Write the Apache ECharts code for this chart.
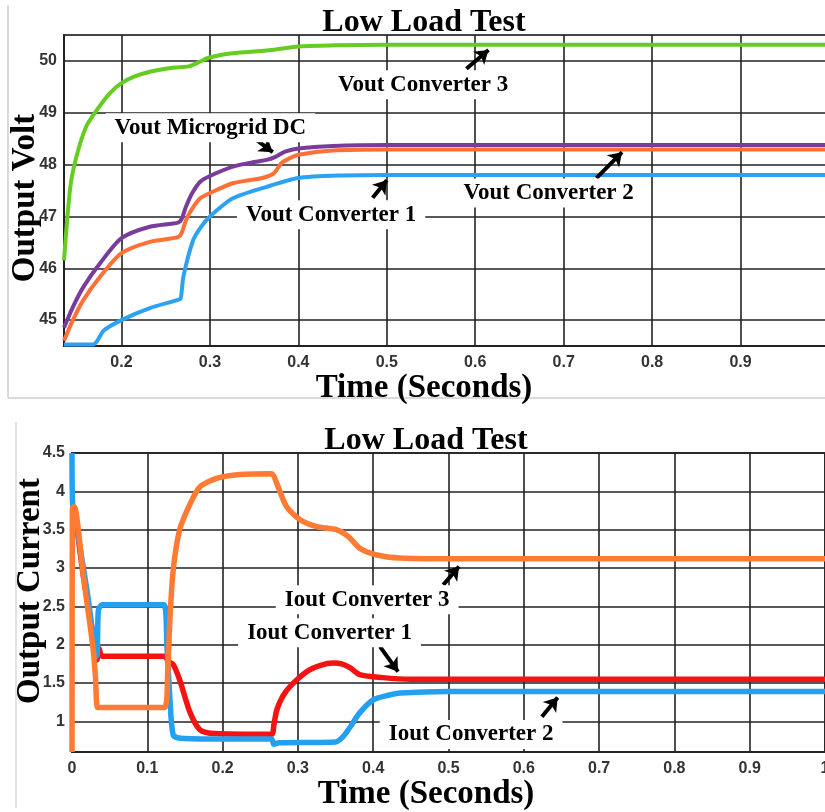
<!DOCTYPE html>
<html>
<head>
<meta charset="utf-8">
<script src="https://cdn.jsdelivr.net/npm/echarts@6/dist/echarts.min.js"></script>
<style>
    html, body { margin: 0; padding: 0; background: #fff; }
    #chart { width: 825px; height: 812px; }
</style>
</head>
<body>
<div id="chart"></div>
<script>
    // top panel: output voltage
    const voltTicksX = [0.2, 0.3, 0.4, 0.5, 0.6, 0.7, 0.8, 0.9];
    const voltTicksY = [45, 46, 47, 48, 49, 50];

    const v3Time = [0.135, 0.142, 0.149, 0.16, 0.172, 0.187, 0.2, 0.215, 0.232, 0.25, 0.266, 0.277, 0.288, 0.3, 0.326, 0.364, 0.4, 0.44, 0.5, 1.0];
    const v3Vals = [46.15, 47.55, 48.15, 48.73, 49.05, 49.38, 49.57, 49.7, 49.79, 49.85, 49.88, 49.9, 49.98, 50.07, 50.15, 50.2, 50.28, 50.3, 50.31, 50.31];

    const vmTime = [0.135, 0.145, 0.157, 0.176, 0.2, 0.232, 0.264, 0.268, 0.273, 0.28, 0.289, 0.3, 0.326, 0.35, 0.364, 0.374, 0.385, 0.4, 0.439, 0.5, 1.0];
    const vmVals = [44.85, 45.25, 45.64, 46.1, 46.58, 46.8, 46.88, 46.95, 47.19, 47.45, 47.67, 47.78, 47.96, 48.05, 48.09, 48.15, 48.25, 48.31, 48.36, 48.38, 48.38];

    const v2Time = [0.135, 0.145, 0.157, 0.176, 0.2, 0.232, 0.264, 0.268, 0.273, 0.28, 0.289, 0.3, 0.326, 0.359, 0.372, 0.381, 0.39, 0.4, 0.439, 0.5, 1.0];
    const v2Vals = [44.6, 45.0, 45.39, 45.84, 46.29, 46.51, 46.6, 46.68, 46.93, 47.15, 47.35, 47.45, 47.64, 47.74, 47.83, 48.03, 48.12, 48.19, 48.27, 48.29, 48.29];

    const v1Time = [0.135, 0.168, 0.18, 0.2, 0.232, 0.264, 0.267, 0.27, 0.281, 0.29, 0.3, 0.326, 0.364, 0.4, 0.45, 0.5, 1.0];
    const v1Vals = [44.53, 44.53, 44.8, 45.0, 45.23, 45.39, 45.42, 45.84, 46.54, 46.8, 47.0, 47.35, 47.57, 47.74, 47.79, 47.8, 47.8];

    // bottom panel: output current
    const currTicksY = [1, 1.5, 2, 2.5, 3, 3.5, 4, 4.5];

    const i1Time = [0.003, 0.015, 0.03, 0.033, 0.036, 0.04, 0.123, 0.128, 0.1345, 0.143, 0.157, 0.17, 0.19, 0.265, 0.268, 0.272, 0.28, 0.29, 0.312, 0.33, 0.347, 0.358, 0.369, 0.382, 0.413, 0.45, 0.5, 1.0];
    const i1Vals = [3.8, 2.9, 2.0, 1.8, 1.95, 1.85, 1.85, 1.78, 1.74, 1.54, 1.11, 0.89, 0.84, 0.83, 0.95, 1.15, 1.33, 1.46, 1.65, 1.73, 1.76, 1.75, 1.7, 1.61, 1.57, 1.55, 1.55, 1.55];

    const i2Time = [0, 0.001, 0.006, 0.02, 0.033, 0.035, 0.04, 0.122, 0.126, 0.13, 0.1345, 0.145, 0.2, 0.265, 0.268, 0.275, 0.35, 0.36, 0.369, 0.382, 0.4, 0.42, 0.436, 0.5, 1.0];
    const i2Vals = [4.5, 3.8, 3.55, 2.7, 1.85, 2.45, 2.52, 2.52, 2.0, 1.3, 0.82, 0.78, 0.77, 0.77, 0.7, 0.72, 0.73, 0.8, 0.92, 1.11, 1.28, 1.34, 1.37, 1.39, 1.39];

    const i3Time = [0, 0.0005, 0.003, 0.015, 0.028, 0.031, 0.034, 0.04, 0.123, 0.127, 0.13, 0.1345, 0.143, 0.157, 0.17, 0.192, 0.223, 0.265, 0.272, 0.285, 0.303, 0.325, 0.351, 0.367, 0.382, 0.405, 0.436, 0.5, 1.0];
    const i3Vals = [0.6, 3.78, 3.8, 2.9, 1.95, 1.6, 1.18, 1.18, 1.18, 1.6, 2.33, 2.98, 3.5, 3.84, 4.06, 4.17, 4.22, 4.23, 4.1, 3.8, 3.63, 3.54, 3.5, 3.41, 3.26, 3.17, 3.13, 3.12, 3.12];

    // annotations: [text, t, value] and arrows [t1, v1, t2, v2]
    const voltLabels = [
        ['Vout Converter 3', 0.541, 49.54],
        ['Vout Microgrid DC', 0.3005, 48.71],
        ['Vout Converter 1', 0.437, 47.03],
        ['Vout Converter 2', 0.683, 47.45]
    ];
    const voltArrows = [
        [0.590, 49.85, 0.615, 50.21],
        [0.353, 48.47, 0.371, 48.24],
        [0.484, 47.36, 0.500, 47.70],
        [0.737, 47.74, 0.766, 48.24]
    ];
    const currLabels = [
        ['Iout Converter 3', 0.392, 2.586],
        ['Iout Converter 1', 0.342, 2.156],
        ['Iout Converter 2', 0.530, 0.828]
    ];
    const currArrows = [
        [0.493, 2.78, 0.514, 3.02],
        [0.409, 1.974, 0.433, 1.648],
        [0.624, 1.06, 0.645, 1.31]
    ];

    const serif = 'Liberation Serif';
    const sans = 'Liberation Sans';

    function pairs(ts, vs) {
        return ts.map((t, i) => [t, vs[i]]);
    }

    function marks(labels, arrows) {
        return {
            markPoint: {
                symbol: 'rect',
                symbolSize: 1,
                silent: true,
                itemStyle: {color: 'rgba(0,0,0,0)'},
                label: {
                    show: true,
                    position: 'inside',
                    formatter: '{b}',
                    color: '#000',
                    fontFamily: serif,
                    fontWeight: 'bold',
                    fontSize: 23,
                    backgroundColor: '#fff',
                    padding: [3, 9]
                },
                data: labels.map(l => ({name: l[0], coord: [l[1], l[2]]}))
            },
            markLine: {
                silent: true,
                symbol: ['none', 'arrow'],
                symbolSize: 13,
                label: {show: false},
                lineStyle: {color: '#000', width: 4, type: 'solid'},
                data: arrows.map(a => [{coord: [a[0], a[1]]}, {coord: [a[2], a[3]]}])
            }
        };
    }

    function line(name, xi, data, color, width, extra) {
        return Object.assign({
            name: name,
            type: 'line',
            xAxisIndex: xi,
            yAxisIndex: xi,
            data: data,
            showSymbol: false,
            smooth: 0.25,
            color: color,
            lineStyle: {width: width, color: color},
            clip: true,
            z: 3
        }, extra || {});
    }

    const labelStyle = {color: '#333', fontFamily: sans, fontWeight: 'bold', fontSize: 16};
    const gridLine = {show: true, lineStyle: {color: '#222', width: 1.6}};
    const nameFont = 'bold 33px "Liberation Serif"';

    let chart = echarts.init(document.getElementById('chart'));
    chart.setOption({
        animation: false,
        backgroundColor: '#fff',
        title: [
            {text: 'Low Load Test', left: 424, top: 7, textAlign: 'center', padding: 0,
                textStyle: {fontFamily: serif, fontWeight: 'bold', fontSize: 32, color: '#000'}},
            {text: 'Low Load Test', left: 426, top: 425, textAlign: 'center', padding: 0,
                textStyle: {fontFamily: serif, fontWeight: 'bold', fontSize: 32, color: '#000'}}
        ],
        grid: [
            {left: 64, top: 35, width: 765, height: 311, show: true, borderColor: '#444', borderWidth: 2,
                outerBoundsMode: 'none'},
            {left: 72, top: 453, width: 753, height: 299, show: true, borderColor: '#444', borderWidth: 2,
                outerBoundsMode: 'none'}
        ],
        xAxis: [
            {
                type: 'value', gridIndex: 0, min: 0.135, max: 1,
                axisLine: {show: true, lineStyle: {color: '#222', width: 2}},
                axisTick: {show: false, customValues: voltTicksX},
                axisLabel: Object.assign({customValues: voltTicksX, margin: 9}, labelStyle),
                splitLine: gridLine
            },
            {
                type: 'value', gridIndex: 1, min: 0, max: 1, interval: 0.1,
                axisLine: {show: true, lineStyle: {color: '#222', width: 2}},
                axisTick: {show: false},
                axisLabel: Object.assign({margin: 9}, labelStyle),
                splitLine: gridLine
            }
        ],
        yAxis: [
            {
                type: 'value', gridIndex: 0, min: 44.5, max: 50.5,
                axisLine: {show: true, lineStyle: {color: '#222', width: 2}},
                axisTick: {show: false, customValues: voltTicksY},
                axisLabel: Object.assign({customValues: voltTicksY, margin: 7}, labelStyle),
                splitLine: gridLine
            },
            {
                type: 'value', gridIndex: 1, min: 0.6, max: 4.5,
                axisLine: {show: true, lineStyle: {color: '#222', width: 2}},
                axisTick: {show: false, customValues: currTicksY},
                axisLabel: Object.assign({customValues: currTicksY, margin: 7}, labelStyle),
                splitLine: gridLine
            }
        ],
        graphic: [
            {type: 'line', shape: {x1: 8, y1: 5, x2: 8, y2: 398}, style: {stroke: '#cfcfcf', lineWidth: 1.5}},
            {type: 'line', shape: {x1: 8, y1: 398, x2: 825, y2: 398}, style: {stroke: '#cfcfcf', lineWidth: 1.5}},
            {type: 'line', shape: {x1: 16, y1: 422, x2: 16, y2: 808}, style: {stroke: '#d8d8d8', lineWidth: 1.5}},
            {type: 'text', x: 25, y: 198, rotation: Math.PI / 2,
                style: {text: 'Output Volt', font: nameFont, fill: '#000', align: 'center', verticalAlign: 'middle'}},
            {type: 'text', x: 424, y: 388,
                style: {text: 'Time (Seconds)', font: nameFont, fill: '#000', align: 'center', verticalAlign: 'middle'}},
            {type: 'text', x: 30, y: 591, rotation: Math.PI / 2,
                style: {text: 'Output Current', font: nameFont, fill: '#000', align: 'center', verticalAlign: 'middle'}},
            {type: 'text', x: 426, y: 794,
                style: {text: 'Time (Seconds)', font: nameFont, fill: '#000', align: 'center', verticalAlign: 'middle'}}
        ],
        series: [
            line('Vout Converter 3', 0, pairs(v3Time, v3Vals), '#66cc22', 4),
            line('Vout Converter 1', 0, pairs(v1Time, v1Vals), '#2ea2f2', 4),
            line('Vout Converter 2', 0, pairs(v2Time, v2Vals), '#ff7036', 4),
            line('Vout Microgrid DC', 0, pairs(vmTime, vmVals), '#7a3c9c', 4, marks(voltLabels, voltArrows)),
            line('Iout Converter 1', 1, pairs(i1Time, i1Vals), '#f51212', 5.5),
            line('Iout Converter 2', 1, pairs(i2Time, i2Vals), '#24a0f0', 5.5),
            line('Iout Converter 3', 1, pairs(i3Time, i3Vals), '#ff7a32', 5.5, marks(currLabels, currArrows))
        ]
    });
</script>
</body>
</html>
